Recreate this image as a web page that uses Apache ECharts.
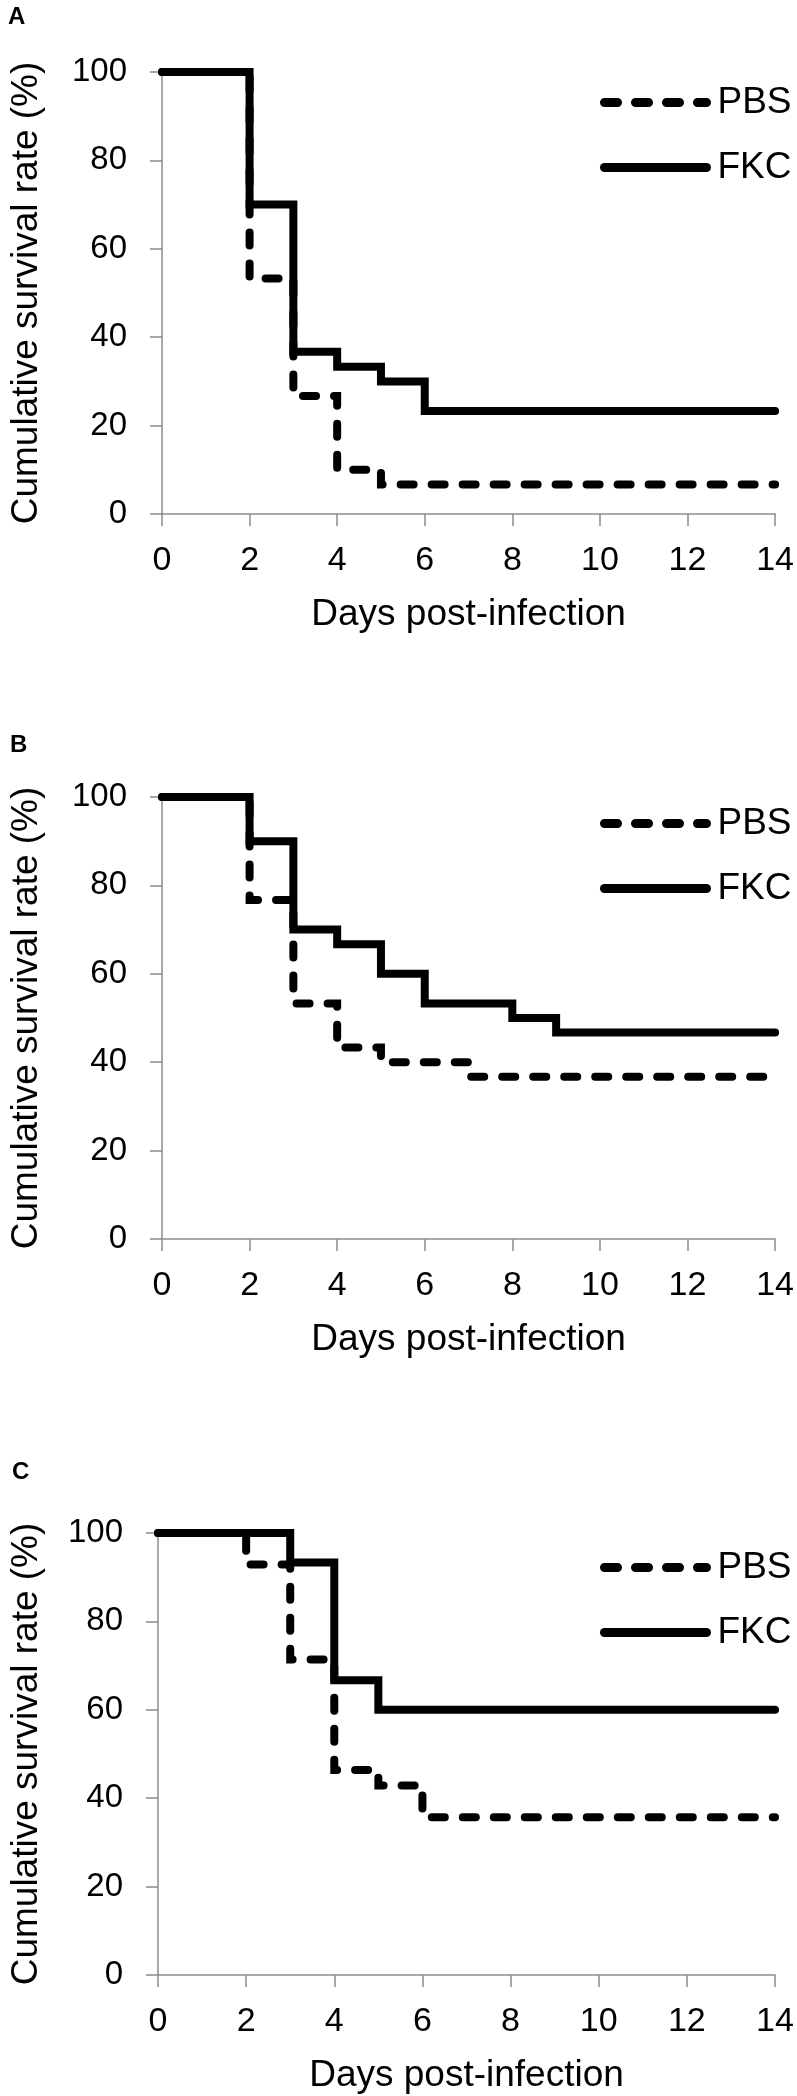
<!DOCTYPE html>
<html>
<head>
<meta charset="utf-8">
<script src="https://cdn.jsdelivr.net/npm/echarts@6/dist/echarts.min.js"></script>
<style>
  html, body { margin: 0; padding: 0; background: #fff; }
  #chart { width: 797px; height: 2096px; }
</style>
</head>
<body>
<div id="chart"></div>
<script>
// survival curves, days post-infection vs cumulative survival (%)
const xTicks = [0, 2, 4, 6, 8, 10, 12, 14];
const yTicks = [0, 20, 40, 60, 80, 100];
const seriesNames = ['PBS', 'FKC'];
const panelLabels = ['A', 'B', 'C'];

const daysA_PBS = [0, 2, 3, 4, 5, 14];
const survA_PBS = [100, 53.3, 26.7, 10, 6.7, 6.7];
const daysA_FKC = [0, 2, 3, 4, 5, 6, 14];
const survA_FKC = [100, 70, 36.7, 33.3, 30, 23.3, 23.3];

const daysB_PBS = [0, 2, 3, 4, 5, 7, 14];
const survB_PBS = [100, 76.7, 53.3, 43.3, 40, 36.7, 36.7];
const daysB_FKC = [0, 2, 3, 4, 5, 6, 8, 9, 14];
const survB_FKC = [100, 90, 70, 66.7, 60, 53.3, 50, 46.7, 46.7];

const daysC_PBS = [0, 2, 3, 4, 5, 6, 14];
const survC_PBS = [100, 92.9, 71.4, 46.4, 42.9, 35.7, 35.7];
const daysC_FKC = [0, 3, 4, 5, 14];
const survC_FKC = [100, 93.3, 66.7, 60, 60];

const font = '"Liberation Sans", Arial, Helvetica, sans-serif';
const axisGray = '#8c8c8c';
const dashed = [13, 18];

const zip = (xs, ys) => xs.map((x, i) => [x, ys[i]]);

const panels = [
  { left: 152, top: 72, width: 625, pbs: zip(daysA_PBS, survA_PBS), fkc: zip(daysA_FKC, survA_FKC), legendTop: 79, labelX: 8, labelY: 17 },
  { left: 152, top: 797, width: 625, pbs: zip(daysB_PBS, survB_PBS), fkc: zip(daysB_FKC, survB_FKC), legendTop: 800, labelX: 10, labelY: 745 },
  { left: 146, top: 1533, width: 629, pbs: zip(daysC_PBS, survC_PBS), fkc: zip(daysC_FKC, survC_FKC), legendTop: 1544, labelX: 12, labelY: 1472 }
];

const myChart = echarts.init(document.getElementById('chart'));

const legendItems = [
  { name: seriesNames[0], lineStyle: { width: 9, type: dashed, cap: 'round', color: '#000' }, itemStyle: { color: 'transparent', borderWidth: 0 } },
  { name: seriesNames[1], lineStyle: { width: 9, type: 'solid', cap: 'round', color: '#000' }, itemStyle: { color: 'transparent', borderWidth: 0 } }
];

const option = {
  animation: false,
  backgroundColor: '#fff',
  grid: panels.map(p => ({ left: p.left, top: p.top, width: p.width, height: 442 })),
  xAxis: panels.map((p, i) => ({
    type: 'value',
    gridIndex: i,
    min: 0,
    max: 14,
    interval: 2,
    name: 'Days post-infection',
    nameLocation: 'middle',
    nameGap: 82,
    nameTextStyle: { fontSize: 37, color: '#000', fontFamily: font },
    axisLine: { show: true, onZero: false, lineStyle: { color: axisGray, width: 1.5 } },
    axisTick: { show: true, length: 12, lineStyle: { color: axisGray, width: 1.5 } },
    axisLabel: {
      margin: 30, fontSize: 34, color: '#000', fontFamily: font,
      formatter: v => (xTicks.includes(v) ? String(v) : '')
    },
    splitLine: { show: false }
  })),
  yAxis: panels.map((p, i) => ({
    type: 'value',
    gridIndex: i,
    min: 0,
    max: 100,
    interval: 20,
    name: 'Cumulative survival rate (%)',
    nameLocation: 'middle',
    nameRotate: 90,
    nameGap: i === 2 ? 113 : 117,
    nameTextStyle: { fontSize: 37, color: '#000', fontFamily: font },
    axisLine: { show: true, lineStyle: { color: axisGray, width: 1.5 } },
    axisTick: { show: true, length: 12, lineStyle: { color: axisGray, width: 1.5 } },
    axisLabel: {
      margin: 35, fontSize: 33, color: '#000', fontFamily: font,
      formatter: v => (yTicks.includes(v) ? String(v) : '')
    },
    splitLine: { show: false }
  })),
  legend: panels.map(p => ({
    data: legendItems,
    orient: 'vertical',
    left: 595,
    top: p.legendTop,
    itemWidth: 102,
    itemHeight: 14,
    itemGap: 28,
    selectedMode: false,
    textStyle: { fontSize: 37, color: '#000', fontFamily: font, padding: [0, 0, 0, 6] }
  })),
  graphic: panels.map((p, i) => ({
    type: 'text',
    left: p.labelX,
    top: p.labelY - 12,
    style: { text: panelLabels[i], fontSize: 24, fontWeight: 'bold', fill: '#000', fontFamily: font }
  })),
  series: []
};

panels.forEach((p, i) => {
  option.series.push({
    name: 'PBS',
    type: 'line',
    xAxisIndex: i,
    yAxisIndex: i,
    step: 'end',
    symbol: 'none',
    data: p.pbs,
    lineStyle: { color: '#000', width: 8, type: dashed, cap: 'round', join: 'miter' },
    itemStyle: { color: '#000' }
  });
  option.series.push({
    name: 'FKC',
    type: 'line',
    xAxisIndex: i,
    yAxisIndex: i,
    step: 'end',
    symbol: 'none',
    data: p.fkc,
    lineStyle: { color: '#000', width: 8, type: 'solid', cap: 'round', join: 'miter' },
    itemStyle: { color: '#000' }
  });
});

myChart.setOption(option);
</script>
</body>
</html>
